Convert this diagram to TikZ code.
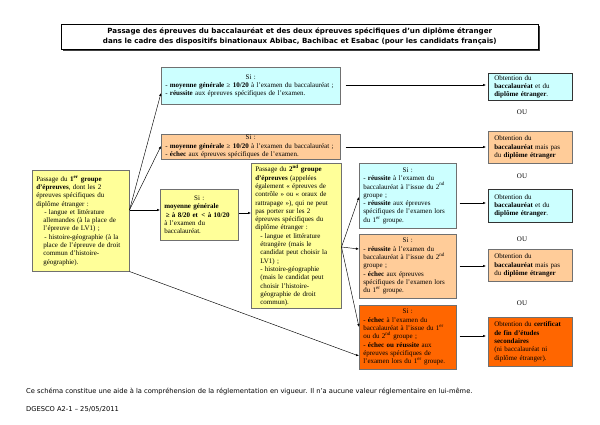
\documentclass[tikz,border=0pt]{standalone}
\usepackage{fontspec}
\setmainfont{Liberation Serif}
\newfontfamily\sansfnt{DejaVu Sans}
\usetikzlibrary{arrows.meta,calc}
\definecolor{cyanbox}{HTML}{CCFFFF}
\definecolor{orangebox}{HTML}{FFCC99}
\definecolor{yellowbox}{HTML}{FFFF99}
\definecolor{darkorange}{HTML}{FF6600}
\definecolor{boxline}{HTML}{707070}
\newcommand{\siline}{\makebox[\linewidth]{Si :}\\}
\newcommand{\sq}[1]{\textsuperscript{#1}}
\begin{document}
\begin{tikzpicture}[x=1pt,y=-1pt,
  bx/.style={draw=boxline, line width=0.5pt, anchor=north west, inner xsep=4pt, inner ysep=1pt,
    font=\fontsize{7}{8.3}\selectfont, align=left},
  res/.style={bx, inner xsep=6pt, draw=black!80, line width=0.7pt},
  arr/.style={-{Latex[length=3pt,width=2.4pt]}, line width=0.45pt, black},
  ou/.style={font=\fontsize{7}{8}\selectfont}]
\useasboundingbox[fill=white] (0,0) rectangle (600,424);

% title
\fill[black!75] (63,26) rectangle (540,51);
\node[draw=black, line width=0.6pt, fill=white, anchor=north west, minimum width=477pt, minimum height=25pt, inner sep=0pt,
  font=\sansfnt\bfseries\fontsize{7.1}{10}\selectfont, align=center] (title) at (61,24)
  {Passage des épreuves du baccalauréat et des deux épreuves spécifiques d’un diplôme étranger\\
   dans le cadre des dispositifs binationaux Abibac, Bachibac et Esabac (pour les candidats français)};

% left box
\node[bx, fill=yellowbox, text width=89pt, minimum width=97pt, minimum height=101pt] (L) at (32,170)
  {Passage du \textbf{1\sq{er} groupe}\\
   \textbf{d’épreuves}, dont les 2\\
   épreuves spécifiques du\\
   diplôme étranger :\\
   \hspace*{8pt}- langue et littérature\\
   \hspace*{7pt}allemandes (à la place de\\
   \hspace*{7pt}l’épreuve de LV1) ;\\
   \hspace*{8pt}- histoire-géographie (à la\\
   \hspace*{7pt}place de l’épreuve de droit\\
   \hspace*{7pt}commun d’histoire-\\
   \hspace*{7pt}géographie).};

% first column conditions
\node[bx, fill=cyanbox, text width=171pt, minimum width=179pt, minimum height=37pt] (A1) at (161,67)
  {\siline
   - \textbf{moyenne générale} ≥ \textbf{10/20} à l’examen du baccalauréat ;\\
   - \textbf{réussite} aux épreuves spécifiques de l’examen.};
\node[bx, fill=orangebox, text width=171pt, minimum width=179pt, minimum height=23pt] (A2) at (161,134)
  {\siline
   - \textbf{moyenne générale} ≥ \textbf{10/20} à l’examen du baccalauréat ;\\
   - \textbf{échec} aux épreuves spécifiques de l’examen.};
\node[bx, fill=yellowbox, text width=70pt, minimum width=78pt, minimum height=51pt] (B) at (160,189)
  {\siline
   \textbf{moyenne générale}\\
   \hspace*{1.5pt}\textbf{≥ à 8/20 et \,< à 10/20}\\
   à l’examen du\\
   baccalauréat.};

% second group
\node[bx, fill=yellowbox, text width=82pt, minimum width=90pt, minimum height=145pt] (C) at (251,163)
  {Passage du \textbf{2\sq{nd} groupe}\\
   \textbf{d’épreuves} (appelées\\
   également « épreuves de\\
   contrôle » ou « oraux de\\
   rattrapage »), qui ne peut\\
   pas porter sur les 2\\
   épreuves spécifiques du\\
   diplôme étranger :\\
   \hspace*{5pt}- langue et littérature\\
   \hspace*{5pt}étrangère (mais le\\
   \hspace*{5pt}candidat peut choisir la\\
   \hspace*{5pt}LV1) ;\\
   \hspace*{5pt}- histoire-géographie\\
   \hspace*{5pt}(mais le candidat peut\\
   \hspace*{5pt}choisir l’histoire-\\
   \hspace*{5pt}géographie de droit\\
   \hspace*{5pt}commun).};

\node[bx, fill=cyanbox, text width=89pt, minimum width=97pt, minimum height=65pt] (D1) at (359,163)
  {\siline
   - \textbf{réussite} à l’examen du\\
   baccalauréat à l’issue du 2\sq{nd}\\
   groupe ;\\
   - \textbf{réussite} aux épreuves\\
   spécifiques de l’examen lors\\
   du 1\sq{er} groupe.};
\node[bx, fill=orangebox, text width=89pt, minimum width=97pt, minimum height=64pt] (D2) at (359,234)
  {\siline
   - \textbf{réussite} à l’examen du\\
   baccalauréat à l’issue du 2\sq{nd}\\
   groupe ;\\
   - \textbf{échec} aux épreuves\\
   spécifiques de l’examen lors\\
   du 1\sq{er} groupe.};
\node[bx, fill=darkorange, text width=89pt, minimum width=97pt, minimum height=64pt] (D3) at (359,305)
  {\siline
   - \textbf{échec} à l’examen du\\
   baccalauréat à l’issue du 1\sq{er}\\
   ou du 2\sq{nd} groupe ;\\
   - \textbf{échec ou réussite} aux\\
   épreuves spécifiques de\\
   l’examen lors du 1\sq{er} groupe.};

% results
\node[res, fill=cyanbox, text width=72pt, minimum width=84pt, minimum height=27pt] (R1) at (488,73)
  {Obtention du\\ \textbf{baccalauréat} et du\\ \textbf{diplôme étranger}.};
\node[res, draw=boxline, fill=orangebox, text width=72pt, minimum width=84pt, minimum height=32pt] (R2) at (488,131)
  {Obtention du\\ \textbf{baccalauréat} mais pas\\ du \textbf{diplôme étranger}};
\node[res, fill=cyanbox, text width=72pt, minimum width=84pt, minimum height=33pt] (R3) at (488,189)
  {Obtention du\\ \textbf{baccalauréat} et du\\ \textbf{diplôme étranger}.};
\node[res, draw=boxline, fill=orangebox, text width=72pt, minimum width=84pt, minimum height=32pt] (R4) at (488,249)
  {Obtention du\\ \textbf{baccalauréat} mais pas\\ du \textbf{diplôme étranger}};
\node[res, draw=boxline, fill=darkorange, text width=72pt, minimum width=84pt, minimum height=49pt] (R5) at (488,317)
  {Obtention du \textbf{certificat}\\ \textbf{de fin d’études}\\ \textbf{secondaires}\\ (ni baccalauréat ni\\ diplôme étranger).};

\node[ou] (ou1) at (522,112) {OU};
\node[ou] (ou2) at (522,176) {OU};
\node[ou] (ou3) at (522,239) {OU};
\node[ou] (ou4) at (522,303) {OU};

% connectors
\coordinate (Lo) at (L.east |- 0,210);
\draw[arr] (Lo) -- (A1.west |- 0,93);
\draw[arr] (Lo) -- (A2.west |- 0,146);
\draw[arr] (Lo) -- (B.west |- Lo);
\draw[arr] (L.south east) -- (D3.west |- 0,356);
\coordinate (Bo) at (B.east |- 0,213);
\draw[arr] (Bo) -- (C.west |- Bo);
\coordinate (Co) at (C.east |- 0,247);
\draw[arr] (Co) -- (D1.west |- 0,197);
\draw[arr] (Co) -- (D2.west |- 0,249);
\draw[arr] (Co) -- (D3.west |- 0,327);
\draw[arr, shorten >=2pt] ([xshift=5pt]A1.east |- 0,85) -- (R1.west |- 0,85);
\draw[arr, shorten >=2pt] ([xshift=5pt]A2.east |- 0,147) -- (R2.west |- 0,147);
\draw[arr, shorten >=2pt] ([xshift=3pt]D1.east |- 0,203) -- (R3.west |- 0,203);
\draw[arr, shorten >=2pt] ([xshift=3pt]D2.east |- 0,266) -- (R4.west |- 0,266);
\draw[arr, shorten >=2pt] ([xshift=3pt]D3.east |- 0,336) -- (R5.west |- 0,336);

% footer
\node[anchor=west, inner sep=0pt, font=\sansfnt\fontsize{6.7}{7}\selectfont] (foot1) at (26,392)
  {Ce schéma constitue une aide à la compréhension de la réglementation en vigueur. Il n’a aucune valeur réglementaire en lui-même.};
\node[anchor=west, inner sep=0pt, font=\sansfnt\fontsize{6.7}{7}\selectfont] (foot2) at (26,409)
  {DGESCO A2-1 – 25/05/2011};
\end{tikzpicture}
\end{document}
